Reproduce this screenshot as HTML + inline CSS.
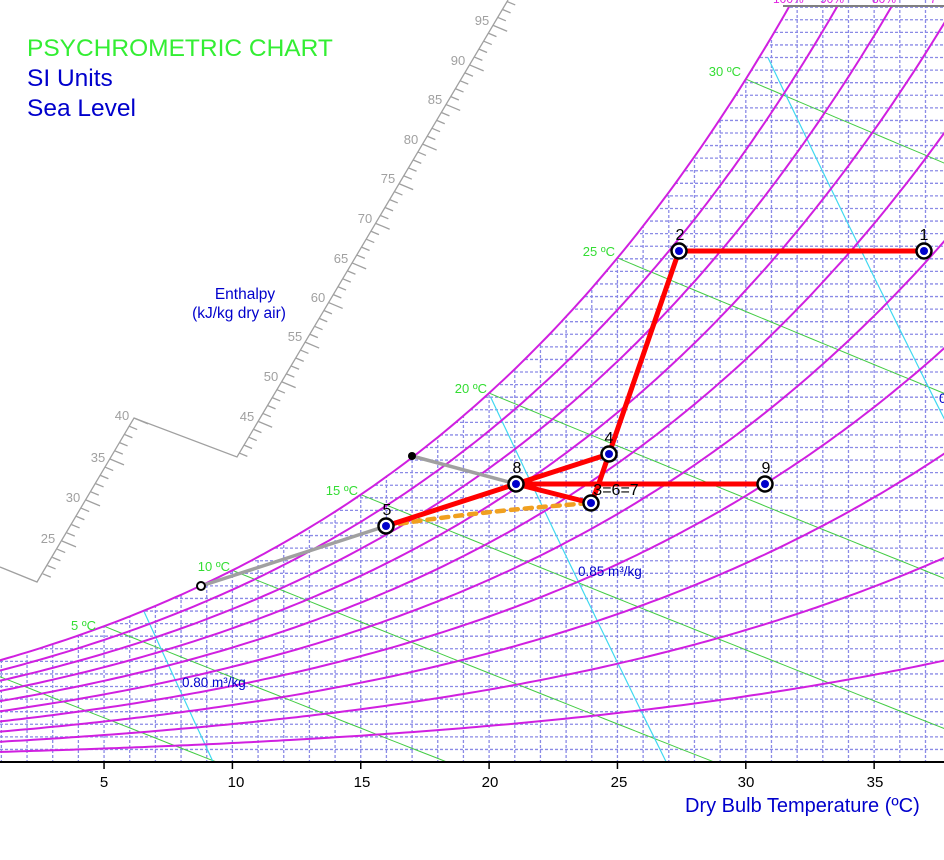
<!DOCTYPE html>
<html><head><meta charset="utf-8"><style>
html,body{margin:0;padding:0;background:#fff;overflow:hidden;width:944px;height:860px;}
svg{display:block;font-family:"Liberation Sans",Arial,sans-serif;}
</style></head><body>
<svg id="s" width="944" height="860" viewBox="0 0 944 860" xmlns="http://www.w3.org/2000/svg">
<defs>
<clipPath id="plot"><rect x="0" y="6" width="944" height="756"/></clipPath>
<clipPath id="sat"><path id="satclip" d=""/></clipPath>
</defs>
<g id="grid" clip-path="url(#sat)"></g>
<g id="curves" clip-path="url(#plot)"></g>
<line x1="783" y1="6" x2="944" y2="6" stroke="#808080" stroke-width="2"/>
<g font-size="12" fill="#e020e0"><text x="773" y="3">100%</text><text x="820" y="3">90%</text><text x="872" y="3">80%</text><text x="930" y="3">7</text></g>
<g id="ent" stroke="#a0a0a0" stroke-width="1.3" fill="none"></g>
<g font-size="13" fill="#a0a0a0" text-anchor="middle">
<text x="48" y="543">25</text><text x="73" y="502">30</text><text x="98" y="462">35</text><text x="122" y="420">40</text>
<text x="247" y="421">45</text><text x="271" y="381">50</text><text x="295" y="341">55</text><text x="318" y="302">60</text>
<text x="341" y="263">65</text><text x="365" y="223">70</text><text x="388" y="183">75</text><text x="411" y="144">80</text>
<text x="435" y="104">85</text><text x="458" y="65">90</text><text x="482" y="25">95</text>
</g>
<g font-size="15.5" fill="#0000cc" text-anchor="middle"><text x="245" y="299">Enthalpy</text><text x="239" y="318">(kJ/kg dry air)</text></g>
<text x="27" y="56" font-size="24.5" fill="#33ee33">PSYCHROMETRIC CHART</text>
<text x="27" y="86" font-size="24.5" fill="#0000cc">SI Units</text>
<text x="27" y="116" font-size="24.5" fill="#0000cc">Sea Level</text>
<g font-size="13" fill="#33dd33" text-anchor="end">
<text x="96" y="630">5 ºC</text><text x="230" y="571">10 ºC</text><text x="358" y="495">15 ºC</text>
<text x="487" y="393">20 ºC</text><text x="615" y="256">25 ºC</text><text x="741" y="76">30 ºC</text>
</g>
<g font-size="13.5" fill="#0000cc"><text x="182" y="687">0.80 m³/kg</text><text x="578" y="576">0.85 m³/kg</text><text x="939" y="403">0</text></g>
<line x1="0" y1="762" x2="944" y2="762" stroke="#000" stroke-width="2"/>
<g id="ticks" stroke="#000" stroke-width="1.5"></g>
<g font-size="15" fill="#000" text-anchor="middle">
<text x="104" y="787">5</text><text x="236" y="787">10</text><text x="362" y="787">15</text><text x="490" y="787">20</text>
<text x="619" y="787">25</text><text x="746" y="787">30</text><text x="875" y="787">35</text>
</g>
<text x="685" y="812" font-size="20" fill="#0000cc">Dry Bulb Temperature (ºC)</text>
<g stroke-linecap="round" fill="none">
<line x1="412" y1="456" x2="516" y2="484" stroke="#a0a0a0" stroke-width="3.5"/>
<line x1="201" y1="586" x2="386" y2="526" stroke="#a0a0a0" stroke-width="3.5"/>
<path d="M386 526 Q470 512 591 503" stroke="#f0a020" stroke-width="4.5" stroke-dasharray="7 7"/>
<g stroke="#ff0000" stroke-width="5">
<line x1="924" y1="251" x2="679" y2="251"/>
<line x1="679" y1="251" x2="609" y2="454"/>
<polyline points="609,454 598,486 591,503"/>
<line x1="516" y1="484" x2="609" y2="454"/>
<line x1="516" y1="484" x2="591" y2="503"/>
<line x1="516" y1="484" x2="765" y2="484"/>
<line x1="516" y1="484" x2="386" y2="526"/>
</g>
</g>
<circle cx="412" cy="456" r="4" fill="#000"/>
<circle cx="201" cy="586" r="4" fill="#fff" stroke="#000" stroke-width="2"/>
<g id="pts"></g>
<g font-size="16" fill="#000" text-anchor="middle">
<text x="924" y="240">1</text><text x="680" y="240">2</text><text x="609" y="443">4</text>
<text x="517" y="473">8</text><text x="766" y="473">9</text><text x="387" y="515">5</text><text x="616" y="495">3=6=7</text>
</g>
</svg>
<script>
var NS="http://www.w3.org/2000/svg";
function X(T){return -24.3+25.67*T;}
function Y(W){return 762-25160*W;}
function ps(T){return 0.61094*Math.exp(17.625*T/(T+243.04));}
function Wr(T,phi){var p=phi*ps(T);return 0.622*p/(101.325-p);}
function el(tag,attrs,parent){var e=document.createElementNS(NS,tag);for(var k in attrs)e.setAttribute(k,attrs[k]);parent.appendChild(e);return e;}
var curves=document.getElementById('curves'),grid=document.getElementById('grid');
var d="M"+X(-2)+" 770";
for(var T=-2;T<=33;T+=0.1){d+=" L"+X(T).toFixed(1)+" "+Y(Wr(T,1)).toFixed(1);}
d+=" L950 -10 L950 770 Z";
document.getElementById('satclip').setAttribute('d',d);
for(var T=0;T<=40;T++){el('line',{x1:X(T),y1:0,x2:X(T),y2:762,stroke:'#8a8ae6','stroke-width':1.3,'stroke-dasharray':'3 2'},grid);}
for(var y=762-12.58;y>0;y-=12.58){el('line',{x1:0,y1:y,x2:944,y2:y,stroke:'#8a8ae6','stroke-width':1.3,'stroke-dasharray':'3 2'},grid);}
for(var tw=0;tw<=35;tw+=5){var Ws=Wr(tw,1);var pts=[];for(var T=tw;T<=45;T+=0.5){var W=((2501-2.326*tw)*Ws-1.006*(T-tw))/(2501+1.86*T-4.186*tw);pts.push(X(T).toFixed(1)+","+Y(W).toFixed(1));}
el('polyline',{points:pts.join(' '),fill:'none',stroke:'#44cc44','stroke-width':1},curves);}
[0.80,0.85,0.90,0.95].forEach(function(v){var pts=[];for(var W=0;W<=0.032;W+=0.0005){var T=v*101.325/(0.287042*(1+1.607858*W))-273.15;if(W>Wr(T,1))break;pts.push(X(T).toFixed(1)+","+Y(W).toFixed(1));}
el('polyline',{points:pts.join(' '),fill:'none',stroke:'#40d8f0','stroke-width':1.2},curves);});
for(var i=1;i<=10;i++){var pts=[];for(var T=-2;T<=45;T+=0.25){pts.push(X(T).toFixed(1)+","+Y(Wr(T,i/10)).toFixed(1));}
el('polyline',{points:pts.join(' '),fill:'none',stroke:'#d020e0','stroke-width':2},curves);}
var tk=document.getElementById('ticks');for(var T=5;T<=35;T+=5){el('line',{x1:X(T),y1:762,x2:X(T),y2:769},tk);}
var ent=document.getElementById('ent');
el('polyline',{points:"0,567 37,582 134,418 237,457 508,0"},ent);
for(var h=21;h<=40;h++){var x=134-(40-h)*4.8,y=418+(40-h)*8.2;var L=h%5==0?14:8;el('line',{x1:x,y1:y,x2:x+L,y2:y+L*0.42},ent);}
for(var h=41;h<=98;h++){var x=237+(h-40.5)*4.7,y=457-(h-40.5)*7.92;var L=h%5==0?14:8;el('line',{x1:x,y1:y,x2:x+L,y2:y+L*0.42},ent);}
var P=document.getElementById('pts');
[[924,251],[679,251],[609,454],[516,484],[765,484],[386,526],[591,503]].forEach(function(p){
el('circle',{cx:p[0],cy:p[1],r:7.5,fill:'#fff',stroke:'#000','stroke-width':2.5},P);
el('circle',{cx:p[0],cy:p[1],r:4,fill:'#0000cc'},P);});
</script>
</body></html>
